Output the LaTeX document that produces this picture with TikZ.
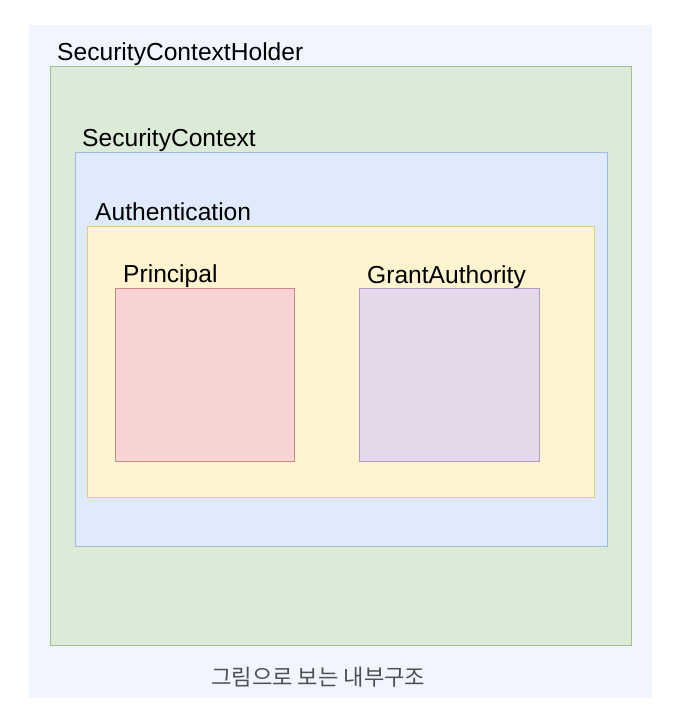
\documentclass[tikz,border=0pt]{standalone}
\usepackage{fontspec}
\setmainfont{Liberation Sans}
\newfontfamily\krfont{Noto Sans CJK KR}
\definecolor{bgc}{HTML}{F0F5FF}
\definecolor{gfill}{HTML}{DCEAD8}
\definecolor{gline}{HTML}{A0C08F}
\definecolor{bfill}{HTML}{DFEAFC}
\definecolor{bline}{HTML}{A2BADC}
\definecolor{yfill}{HTML}{FFF4D0}
\definecolor{yline}{HTML}{E2C97C}
\definecolor{rfill}{HTML}{F7D4D3}
\definecolor{rline}{HTML}{CF8884}
\definecolor{pfill}{HTML}{E5D8EA}
\definecolor{pline}{HTML}{B29AC0}
\definecolor{capc}{HTML}{505050}
\begin{document}
\begin{tikzpicture}[x=1pt,y=-1pt,
  box/.style={draw, line width=1.3pt, inner sep=0pt, anchor=north west},
  lbl/.style={anchor=base west, inner sep=0pt, font=\fontsize{24.6}{29}\selectfont}]
\useasboundingbox (0,0) rectangle (675,727);
\fill[white] (0,0) rectangle (675,727);
\node[inner sep=0pt, anchor=north west, fill=bgc, minimum width=623pt, minimum height=673pt] (bg) at (29,25) {};
\node[box, fill=gfill, draw=gline, minimum width=581pt, minimum height=579pt] (holder) at (50,66) {};
\node[box, fill=bfill, draw=bline, minimum width=532pt, minimum height=394pt] (context) at (74.5,152) {};
\node[box, fill=yfill, draw=yline, minimum width=507pt, minimum height=271pt] (auth) at (87,226) {};
\node[box, fill=rfill, draw=rline, minimum width=179pt, minimum height=173pt] (principal) at (115,288) {};
\node[box, fill=pfill, draw=pline, minimum width=180pt, minimum height=173pt] (grant) at (358.5,288) {};
\node[lbl] (holderlbl) at (57,61) {SecurityContextHolder};
\node[lbl] (contextlbl) at (82,147) {SecurityContext};
\node[lbl] (authlbl) at (95,220) {Authentication};
\node[lbl] (principallbl) at (123,282) {Principal};
\node[lbl] (grantlbl) at (367,283) {GrantAuthority};
\node[anchor=west, inner sep=0pt, text=capc, font=\krfont\fontsize{22.2}{26}\selectfont] (caption) at (211,677) {그림으로 보는 내부구조};
\end{tikzpicture}
\end{document}
